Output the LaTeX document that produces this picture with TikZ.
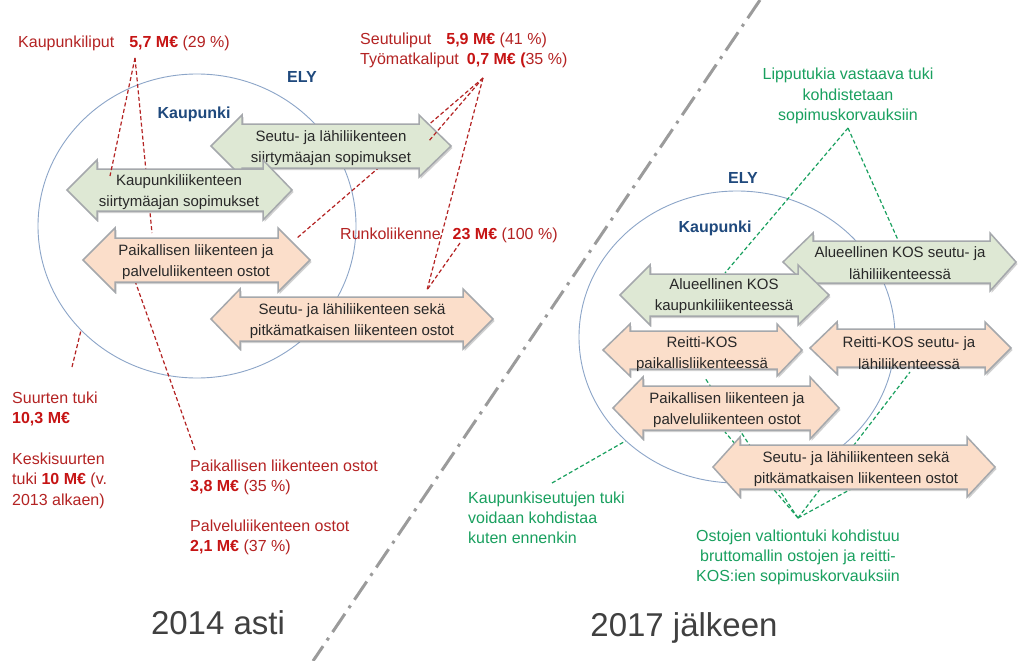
\documentclass[tikz,border=0pt]{standalone}
\usepackage{fontspec}
\setmainfont{Liberation Sans}
\usetikzlibrary{shadows,shapes.geometric}
\definecolor{lred}{RGB}{180,35,35}
\definecolor{bred}{RGB}{198,20,20}
\definecolor{lgreen}{RGB}{25,160,95}
\definecolor{lblue}{RGB}{31,73,125}
\definecolor{gfill}{RGB}{222,232,212}
\definecolor{pfill}{RGB}{251,222,202}
\definecolor{aborder}{RGB}{165,168,172}
\definecolor{ellcol}{RGB}{140,165,200}
\definecolor{divcol}{RGB}{155,155,155}
\definecolor{bigtxt}{RGB}{64,64,64}
\definecolor{atxt}{RGB}{40,40,40}
\newcommand\redb[1]{\textcolor{bred}{\textbf{#1}}}
\newcommand\dblarr[8]{\path[#1] (#2,#6) -- (#3,#6-#8) -- (#3,#6-#7) -- (#4,#6-#7) -- (#4,#6-#8) -- (#5,#6) -- (#4,#6+#8) -- (#4,#6+#7) -- (#3,#6+#7) -- (#3,#6+#8) -- cycle;}
\tikzset{
  arrowbase/.style={draw=aborder, line width=1.5pt, line join=miter,
    drop shadow={shadow xshift=1.5pt, shadow yshift=-2pt, opacity=0.3, fill=black!60}},
  garrow/.style={arrowbase, fill=gfill},
  parrow/.style={arrowbase, fill=pfill},
  atext/.style={align=center, font=\fontsize{15}{21.5}\selectfont, text=atxt, inner sep=0pt},
  redlbl/.style={align=left, font=\fontsize{16}{20.5}\selectfont, text=lred, inner sep=0pt, anchor=base west},
  grnlbl/.style={font=\fontsize{16}{20}\selectfont, text=lgreen, inner sep=0pt},
  bluelbl/.style={font=\fontsize{16}{20}\selectfont\bfseries, text=lblue, inner sep=0pt, anchor=base},
  biglbl/.style={font=\fontsize{33}{38}\selectfont, text=bigtxt, inner sep=0pt, anchor=base},
  elyell/.style={ellipse, draw=ellcol, line width=0.9pt, inner sep=0pt},
  reddash/.style={draw=lred, line width=1.2pt, dash pattern=on 4pt off 2.5pt},
  grndash/.style={draw=lgreen, line width=1.2pt, dash pattern=on 4pt off 2.5pt},
  divider/.style={draw=divcol, line width=3pt, dash pattern=on 22pt off 7pt on 3pt off 7pt}
}
\begin{document}
\begin{tikzpicture}[x=1pt,y=-1pt]
\useasboundingbox (0,0) rectangle (1023,661);
\fill[white] (0,0) rectangle (1023,661);

% divider
\coordinate (dv1) at (760,0);
\coordinate (dv2) at (313,661);
\draw[divider] (dv1) -- (dv2);

% circles
\node[elyell, minimum width=318pt, minimum height=304pt] (elyL) at (197,226) {};
\node[elyell, minimum width=316pt, minimum height=292pt] (elyR) at (737,337) {};

% connector end points
\coordinate (kp) at (135,58);
\coordinate (kpA) at (110,176);
\coordinate (kpB) at (152,233);
\coordinate (po) at (195,450);
\coordinate (poA) at (134,278);
\coordinate (st) at (72,367);
\coordinate (sp) at (483,78);
\coordinate (spA) at (428,142);
\coordinate (spB) at (297,238);
\coordinate (spC) at (427,290);
\coordinate (rk) at (460,243);
\coordinate (lt) at (848,128);
\coordinate (ltA) at (725,273);
\coordinate (ltB) at (898,240);
\coordinate (ks) at (552,483);
\coordinate (os) at (798,518);
\coordinate (osA) at (725,432);
\coordinate (osB) at (705,378);
\coordinate (osC) at (853,488);
\coordinate (osD) at (910,372);

% connectors behind arrows
\draw[reddash] (kp) -- (kpB);
\draw[reddash] (po) -- (poA);
\draw[reddash] (st) -- (elyL.222);
\draw[reddash] (sp) -- (spB);
\draw[reddash] (sp) -- (spC);
\draw[reddash] (rk) -- (spC);
\draw[grndash] (lt) -- (ltA);
\draw[grndash] (lt) -- (ltB);
\draw[grndash] (ks) -- (elyR.223);
\draw[grndash] (os) -- (osA);
\draw[grndash] (os) -- (osB);
\draw[grndash] (os) -- (osC);
\draw[grndash] (os) -- (osD);

% left arrows
\dblarr{garrow}{211}{242}{419}{451}{146}{22}{31}
\node[atext] (a1) at (331,148) {Seutu- ja lähiliikenteen\\siirtymäajan sopimukset};
\dblarr{garrow}{67}{97}{263}{292}{190}{21}{30}
\node[atext] (a2) at (179,192) {Kaupunkiliikenteen\\siirtymäajan sopimukset};
\dblarr{parrow}{83}{115}{278}{310}{260}{22}{32}
\node[atext] (a3) at (196,262) {Paikallisen liikenteen ja\\palveluliikenteen ostot};
\dblarr{parrow}{211}{240}{463}{493}{319}{22}{30}
\node[atext] (a4) at (352,321) {Seutu- ja lähiliikenteen sekä\\pitkämatkaisen liikenteen ostot};

% right arrows
\dblarr{garrow}{783}{813}{990}{1016}{262}{21}{29}
\node[atext] (r1) at (900,263) {Alueellinen KOS seutu- ja\\lähiliikenteessä};
\dblarr{garrow}{620}{650}{798}{829}{295}{21}{30}
\node[atext] (r2) at (724,296) {Alueellinen KOS\\kaupunkiliikenteessä};
\dblarr{parrow}{603}{630}{777}{802}{350}{19}{26}
\node[atext] (r3) at (702,354) {Reitti-KOS\\paikallisliikenteessä};
\dblarr{parrow}{810}{837}{985}{1011}{348}{19}{26}
\node[atext] (r4) at (909,353) {Reitti-KOS seutu- ja\\lähiliikenteessä};
\dblarr{parrow}{613}{643}{810}{839}{408}{22}{31}
\node[atext] (r5) at (727,410) {Paikallisen liikenteen ja\\palveluliikenteen ostot};
\dblarr{parrow}{713}{740}{967}{995}{467}{22}{30}
\node[atext] (r6) at (856,469) {Seutu- ja lähiliikenteen sekä\\pitkämatkaisen liikenteen ostot};

% connectors on top of arrows
\draw[reddash] (kp) -- (kpA);
\draw[reddash] (sp) -- (spA);

% circle labels
\node[bluelbl] (elyLl) at (302,82) {ELY};
\node[bluelbl] (kauL) at (194,118) {Kaupunki};
\node[bluelbl] (elyRl) at (743,183) {ELY};
\node[bluelbl] (kauR) at (715,232) {Kaupunki};

% red labels (base anchor = baseline of last line)
\node[redlbl] (kaupl) at (18,48) {Kaupunkiliput\hspace{15pt}\redb{5,7 M€} (29 \%)};
\node[redlbl] (seutl) at (360,64.5) {Seutuliput\hspace{15pt}\redb{5,9 M€} (41 \%)\\Työmatkaliput\hspace{8pt}\redb{0,7 M€ (}35 \%)};
\node[redlbl] (runkl) at (340,239) {Runkoliikenne\hspace{12pt}\redb{23 M€} (100 \%)};
\node[redlbl] (suurl) at (12,423.5) {Suurten tuki\\\redb{10,3 M€}};
\node[redlbl] (keskl) at (12,505) {Keskisuurten\\tuki \redb{10 M€} (v.\\2013 alkaen)};
\node[redlbl] (paikl) at (190,491.5) {Paikallisen liikenteen ostot\\\redb{3,8 M€} (35 \%)};
\node[redlbl] (palvl) at (190,551.5) {Palveluliikenteen ostot\\\redb{2,1 M€} (37 \%)};

% green labels
\node[grnlbl, align=center, anchor=base] (lippl) at (848,120) {Lipputukia vastaava tuki\\kohdistetaan\\sopimuskorvauksiin};
\node[grnlbl, align=left, anchor=base west] (kaupsl) at (468,543) {Kaupunkiseutujen tuki\\voidaan kohdistaa\\kuten ennenkin};
\node[grnlbl, align=center, anchor=base] (ostl) at (798,581) {Ostojen valtiontuki kohdistuu\\bruttomallin ostojen ja reitti-\\KOS:ien sopimuskorvauksiin};

% big labels
\node[biglbl] (y2014) at (218,634) {2014 asti};
\node[biglbl] (y2017) at (684,636) {2017 jälkeen};
\end{tikzpicture}
\end{document}
